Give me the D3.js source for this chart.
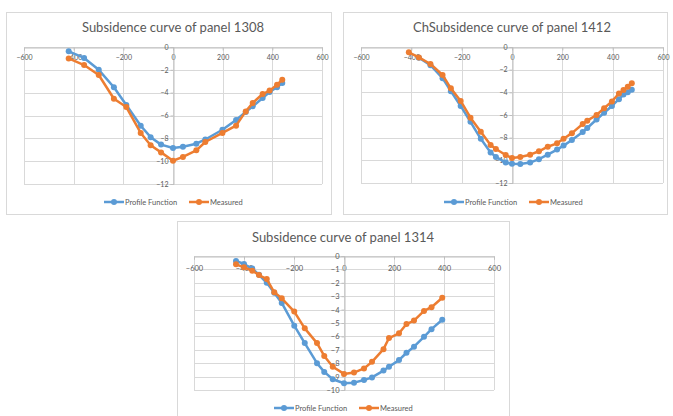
<!DOCTYPE html>
<html>
<head>
<meta charset="utf-8">
<script src="https://cdn.jsdelivr.net/npm/d3@7"></script>
<style>
    body { margin: 0; background: #fff; }
    svg { display: block; }
    text { font-family: Lato, "Open Sans", sans-serif; fill: #595959; }
</style>
</head>
<body>
<div id="chart"></div>
<script>
// panel 1308
const x1308 = [-420, -358, -299, -238, -188, -130, -90, -48, 0, 40, 94, 130, 199, 254, 293, 321, 361, 389, 419, 440];
const profile1308 = [-0.38, -0.96, -2.0, -3.53, -5.08, -6.9, -7.9, -8.55, -8.85, -8.73, -8.47, -8.1, -7.25, -6.4, -5.7, -5.2, -4.47, -3.94, -3.53, -3.15];
const measured1308 = [-1.0, -1.58, -2.45, -4.53, -5.26, -7.53, -8.61, -9.23, -9.96, -9.63, -9.05, -8.32, -7.53, -6.89, -5.64, -4.9, -4.12, -3.82, -3.3, -2.86];

// panel 1412 (profile starts one point later)
const x1412 = [-410, -370, -324, -276, -243, -204, -165, -124, -85, -64, -25, 0, 33, 72, 107, 142, 179, 205, 238, 281, 299, 336, 366, 397, 425, 443, 460, 476];
const profile1412 = [null, -0.95, -1.6, -2.75, -3.9, -5.2, -6.6, -8.1, -9.3, -9.7, -10.2, -10.3, -10.32, -10.2, -9.9, -9.5, -9.05, -8.7, -8.2, -7.5, -7.15, -6.4, -5.8, -5.2, -4.6, -4.2, -4.0, -3.77];
const measured1412 = [-0.47, -0.92, -1.5, -2.47, -3.65, -4.76, -6.24, -7.47, -8.65, -9.0, -9.53, -9.8, -9.7, -9.5, -9.2, -8.8, -8.5, -8.1, -7.6, -6.8, -6.5, -6.0, -5.4, -4.8, -4.1, -3.8, -3.5, -3.2];

// panel 1314
const x1314 = [-432, -400, -367, -340, -309, -279, -249, -199, -157, -108, -79, -45, 0, 40, 80, 112, 158, 180, 220, 250, 280, 320, 350, 393];
const profile1314 = [-0.37, -0.6, -0.94, -1.4, -2.0, -2.75, -3.5, -5.2, -6.5, -8.0, -8.65, -9.2, -9.5, -9.45, -9.26, -9.06, -8.55, -8.26, -7.77, -7.22, -6.77, -6.03, -5.46, -4.76];
const measured1314 = [-0.62, -0.84, -1.1, -1.42, -1.72, -2.71, -3.16, -4.15, -5.4, -6.5, -7.46, -8.26, -8.8, -8.7, -8.39, -7.9, -6.95, -6.12, -5.77, -5.08, -4.82, -4.1, -3.82, -3.12];

const xTicks = [-600, -400, -200, 0, 200, 400, 600];
const yTicks12 = [0, -2, -4, -6, -8, -10, -12];
const yTicks10 = [0, -1, -2, -3, -4, -5, -6, -7, -8, -9, -10];
const seriesNames = ['Profile Function', 'Measured'];

const COLORS = {
    profile: '#5b9bd5',
    measured: '#ed7d31',
    grid: '#d9d9d9',
    axis: '#bfbfbf',
    frame: '#d9d9d9'
};

const svg = d3.select('#chart').append('svg')
    .attr('width', 673)
    .attr('height', 416);

function drawPanel(cfg) {
    const g = svg.append('g');

    // chart frame
    g.append('rect')
        .attr('x', cfg.frame[0] + 0.5)
        .attr('y', cfg.frame[1] + 0.5)
        .attr('width', cfg.frame[2] - cfg.frame[0])
        .attr('height', cfg.frame[3] - cfg.frame[1])
        .attr('fill', '#fff')
        .attr('stroke', COLORS.frame);

    const x = d3.scaleLinear().domain([-600, 600]).range([cfg.left, cfg.right]);
    const y = d3.scaleLinear().domain([d3.min(cfg.yTicks), 0]).range([cfg.bottom, cfg.top]);

    // gridlines
    g.append('g').selectAll('line')
        .data(cfg.yTicks)
        .enter().append('line')
        .attr('x1', cfg.left).attr('x2', cfg.right)
        .attr('y1', d => Math.round(y(d)) + 0.5).attr('y2', d => Math.round(y(d)) + 0.5)
        .attr('stroke', COLORS.grid);

    g.append('g').selectAll('line')
        .data(xTicks)
        .enter().append('line')
        .attr('y1', cfg.top).attr('y2', cfg.bottom)
        .attr('x1', d => Math.round(x(d)) + 0.5).attr('x2', d => Math.round(x(d)) + 0.5)
        .attr('stroke', COLORS.grid);

    // axes cross at 0
    const xAxis = g.append('g')
        .attr('transform', `translate(0,${Math.round(y(0)) + 0.5})`)
        .call(d3.axisBottom(x).tickValues(xTicks).tickSize(3).tickPadding(cfg.xPad));
    const yAxis = g.append('g')
        .attr('transform', `translate(${Math.round(x(0)) + 0.5},0)`)
        .call(d3.axisLeft(y).tickValues(cfg.yTicks).tickSize(3).tickPadding(2));

    [xAxis, yAxis].forEach(a => {
        a.select('.domain').attr('stroke', COLORS.axis);
        a.selectAll('.tick line').attr('stroke', COLORS.axis);
        a.selectAll('.tick text')
            .style('font-size', cfg.tickFont + 'px')
            .attr('fill', '#595959');
    });

    // title
    g.append('text')
        .attr('x', cfg.titleX)
        .attr('y', cfg.titleY)
        .attr('text-anchor', 'middle')
        .style('font-size', '13px')
        .text(cfg.title);

    const line = d3.line()
        .defined(d => d[1] !== null)
        .x(d => x(d[0]))
        .y(d => y(d[1]));

    const series = [
        { key: 'profile', values: cfg.xs.map((v, i) => [v, cfg.profile[i]]) },
        { key: 'measured', values: cfg.xs.map((v, i) => [v, cfg.measured[i]]) }
    ];

    series.forEach(s => {
        g.append('path')
            .datum(s.values)
            .attr('fill', 'none')
            .attr('stroke', COLORS[s.key])
            .attr('stroke-width', 2.5)
            .attr('stroke-linejoin', 'round')
            .attr('d', line);

        g.append('g').selectAll('circle')
            .data(s.values.filter(d => d[1] !== null))
            .enter().append('circle')
            .attr('cx', d => x(d[0]))
            .attr('cy', d => y(d[1]))
            .attr('r', 3)
            .attr('fill', COLORS[s.key]);
    });

    // legend
    const legend = g.append('g')
        .attr('transform', `translate(${cfg.legendX},${cfg.legendY})`);
    const legendItems = [
        { label: seriesNames[0], color: COLORS.profile, dx: 0 },
        { label: seriesNames[1], color: COLORS.measured, dx: 85 }
    ];
    const item = legend.selectAll('g')
        .data(legendItems)
        .enter().append('g')
        .attr('transform', d => `translate(${d.dx},0)`);
    item.append('line')
        .attr('x1', 0).attr('x2', 20)
        .attr('stroke', d => d.color)
        .attr('stroke-width', 2.5);
    item.append('circle')
        .attr('cx', 10)
        .attr('r', 3)
        .attr('fill', d => d.color);
    item.append('text')
        .attr('x', 21)
        .attr('dy', '0.35em')
        .style('font-size', '7.5px')
        .text(d => d.label);
}

drawPanel({
    title: 'Subsidence curve of panel 1308',
    frame: [6, 12, 331, 214],
    left: 24, right: 322, top: 47, bottom: 184,
    yTicks: yTicks12, tickFont: 7, xPad: 5,
    titleX: 173, titleY: 32,
    legendX: 104, legendY: 202,
    xs: x1308, profile: profile1308, measured: measured1308
});

drawPanel({
    title: 'ChSubsidence curve of panel 1412',
    frame: [343, 12, 667, 214],
    left: 361, right: 663, top: 47, bottom: 183,
    yTicks: yTicks12, tickFont: 7, xPad: 5,
    titleX: 512, titleY: 32,
    legendX: 444, legendY: 202,
    xs: x1412, profile: profile1412, measured: measured1412
});

drawPanel({
    title: 'Subsidence curve of panel 1314',
    frame: [177, 221, 509, 420],
    left: 194, right: 494, top: 256, bottom: 390,
    yTicks: yTicks10, tickFont: 7.5, xPad: 6,
    titleX: 343, titleY: 242,
    legendX: 274, legendY: 408,
    xs: x1314, profile: profile1314, measured: measured1314
});
</script>
</body>
</html>
